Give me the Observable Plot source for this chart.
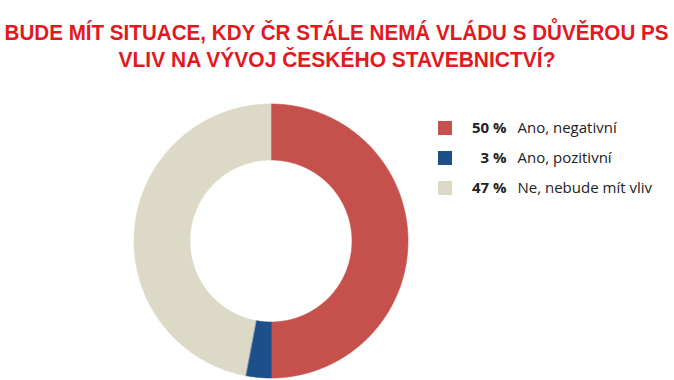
<!DOCTYPE html>
<html>
<head>
<meta charset="utf-8">
<script src="https://cdn.jsdelivr.net/npm/d3@7"></script>
<script src="https://cdn.jsdelivr.net/npm/@observablehq/plot@0.6"></script>
<style>
  html, body { margin: 0; padding: 0; background: #fff; }
</style>
</head>
<body>
<div id="chart"></div>
<script>
// ---- data ----
const titleLines = [
  "BUDE MÍT SITUACE, KDY ČR STÁLE NEMÁ VLÁDU S DŮVĚROU PS",
  "VLIV NA VÝVOJ ČESKÉHO STAVEBNICTVÍ?"
];
const categories = ["Ano, negativní", "Ano, pozitivní", "Ne, nebude mít vliv"];
const values = [50, 3, 47];
const percentLabels = ["50 %", "3 %", "47 %"];

// ---- style / layout ----
const colors = ["#c6504b", "#1d4f8a", "#dcd9c6"];
const W = 674, H = 380;
const cx = 270.5, cy = 240.5, R = 137, r0 = 81;
const titleY = [32, 58.8];
const titleX = [336, 336.5];
const titleLen = [664, 437];

const total = d3.sum(values);
const pts = [];
let cum = 0;
categories.forEach((cat, i) => {
  const a0 = cum / total * 2 * Math.PI;
  cum += values[i];
  const a1 = cum / total * 2 * Math.PI;
  const n = Math.max(4, Math.ceil((a1 - a0) / 0.01));
  for (let k = 0; k <= n; k++) {
    const a = a0 + (a1 - a0) * k / n;
    pts.push({cat, x: cx + R * Math.sin(a), y: cy - R * Math.cos(a)});
  }
  for (let k = n; k >= 0; k--) {
    const a = a0 + (a1 - a0) * k / n;
    pts.push({cat, x: cx + r0 * Math.sin(a), y: cy - r0 * Math.cos(a)});
  }
});

const legend = categories.map((cat, i) => ({cat, pct: percentLabels[i], row: i}));
const rowY = i => 128 + i * 30;

const titleMarks = titleLines.map((t, i) =>
  Plot.text([t], {x: titleX[i], y: titleY[i], text: d => d, fontWeight: "bold", fontSize: 22.5,
    fontFamily: "Liberation Sans, Arial, sans-serif", fill: "#e2191f"})
);

const plot = Plot.plot({
  width: W, height: H,
  margin: 0,
  x: {domain: [0, W], range: [0, W], axis: null},
  y: {domain: [0, H], range: [0, H], axis: null},
  color: {domain: categories, range: colors},
  style: {background: "#fff"},
  marks: [
    Plot.line(pts, {x: "x", y: "y", z: "cat", fill: "cat", stroke: "cat", strokeWidth: 0.6, curve: "linear-closed"}),
    Plot.rect(legend, {x1: 438, x2: 452, y1: d => rowY(d.row) - 7, y2: d => rowY(d.row) + 7, fill: "cat"}),
    Plot.text(legend, {x: 506, y: d => rowY(d.row), text: "pct", textAnchor: "end", fontWeight: "bold", fontSize: 15, fontFamily: "Open Sans", fill: "#222"}),
    Plot.text(legend, {x: 517, y: d => rowY(d.row), text: "cat", textAnchor: "start", fontSize: 15, fontFamily: "Open Sans", fill: "#222"}),
    ...titleMarks
  ]
});
plot.querySelectorAll("text").forEach(t => {
  const i = titleLines.indexOf(t.textContent);
  if (i >= 0) {
    t.setAttribute("textLength", titleLen[i]);
    t.setAttribute("lengthAdjust", "spacingAndGlyphs");
  }
});
document.getElementById("chart").appendChild(plot);
</script>
</body>
</html>
